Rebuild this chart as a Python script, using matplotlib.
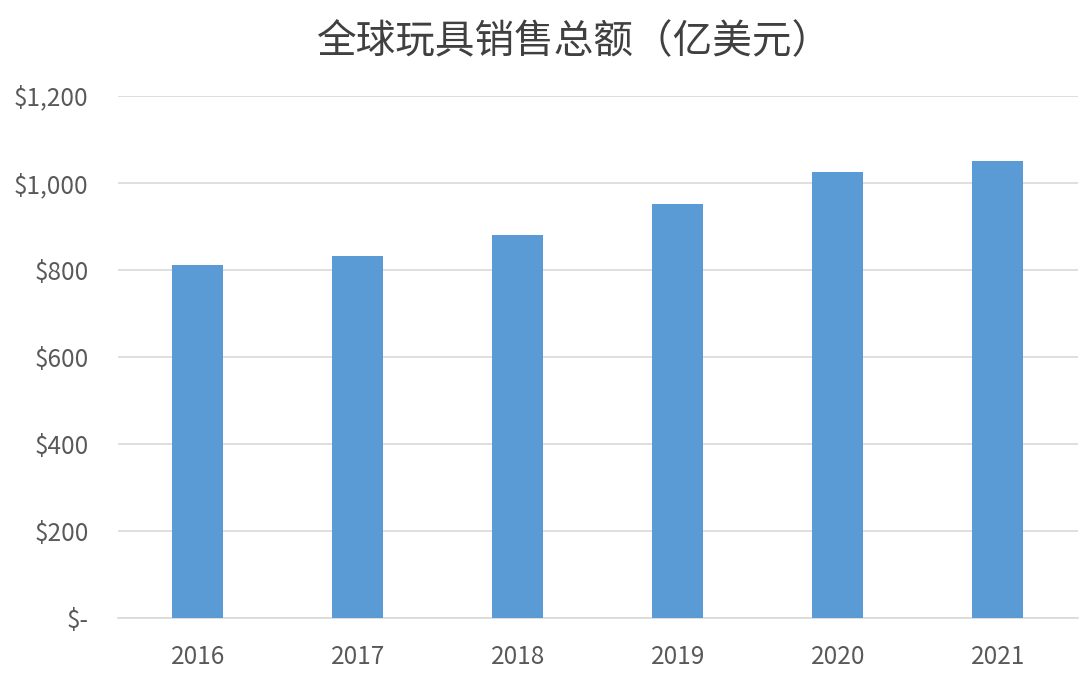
import matplotlib
matplotlib.use("Agg")
import matplotlib.pyplot as plt
from matplotlib.ticker import FuncFormatter

plt.rcParams["font.family"] = ["Noto Sans CJK SC", "DejaVu Sans"]

years = ["2016", "2017", "2018", "2019", "2020", "2021"]
sales = [811, 831, 880, 952, 1025, 1051]
y_ticks = [0, 200, 400, 600, 800, 1000, 1200]

BAR_COLOR = "#5B9BD5"
GRID_COLOR = "#D9D9D9"
TEXT_COLOR = "#595959"

fig = plt.figure(figsize=(10.8, 6.74), dpi=100)
ax = fig.add_axes([0.109, 0.083, 0.889, 0.775])

x = range(len(years))
ax.bar(x, sales, width=0.32, color=BAR_COLOR, zorder=3)

ax.set_xlim(-0.5, len(years) - 0.5)
ax.set_ylim(0, 1200)
ax.set_yticks(y_ticks)
ax.yaxis.set_major_formatter(FuncFormatter(lambda v, p: "$-" if v == 0 else f"${v:,.0f}"))
ax.set_xticks(list(x))
ax.set_xticklabels(years)

ax.grid(axis="y", color=GRID_COLOR, lw=1.2, zorder=0)
for s in ["top", "right", "left"]:
    ax.spines[s].set_visible(False)
ax.spines["bottom"].set_color(GRID_COLOR)
ax.spines["bottom"].set_linewidth(1.2)
ax.tick_params(axis="both", length=0, labelsize=17.5, colors=TEXT_COLOR)
ax.tick_params(axis="y", pad=21)
ax.tick_params(axis="x", pad=19)

fig.text(0.532, 0.937, "全球玩具销售总额（亿美元）", ha="center", va="center",
         fontsize=28.5, color="#404040")

fig.savefig("out.png", dpi=100)
